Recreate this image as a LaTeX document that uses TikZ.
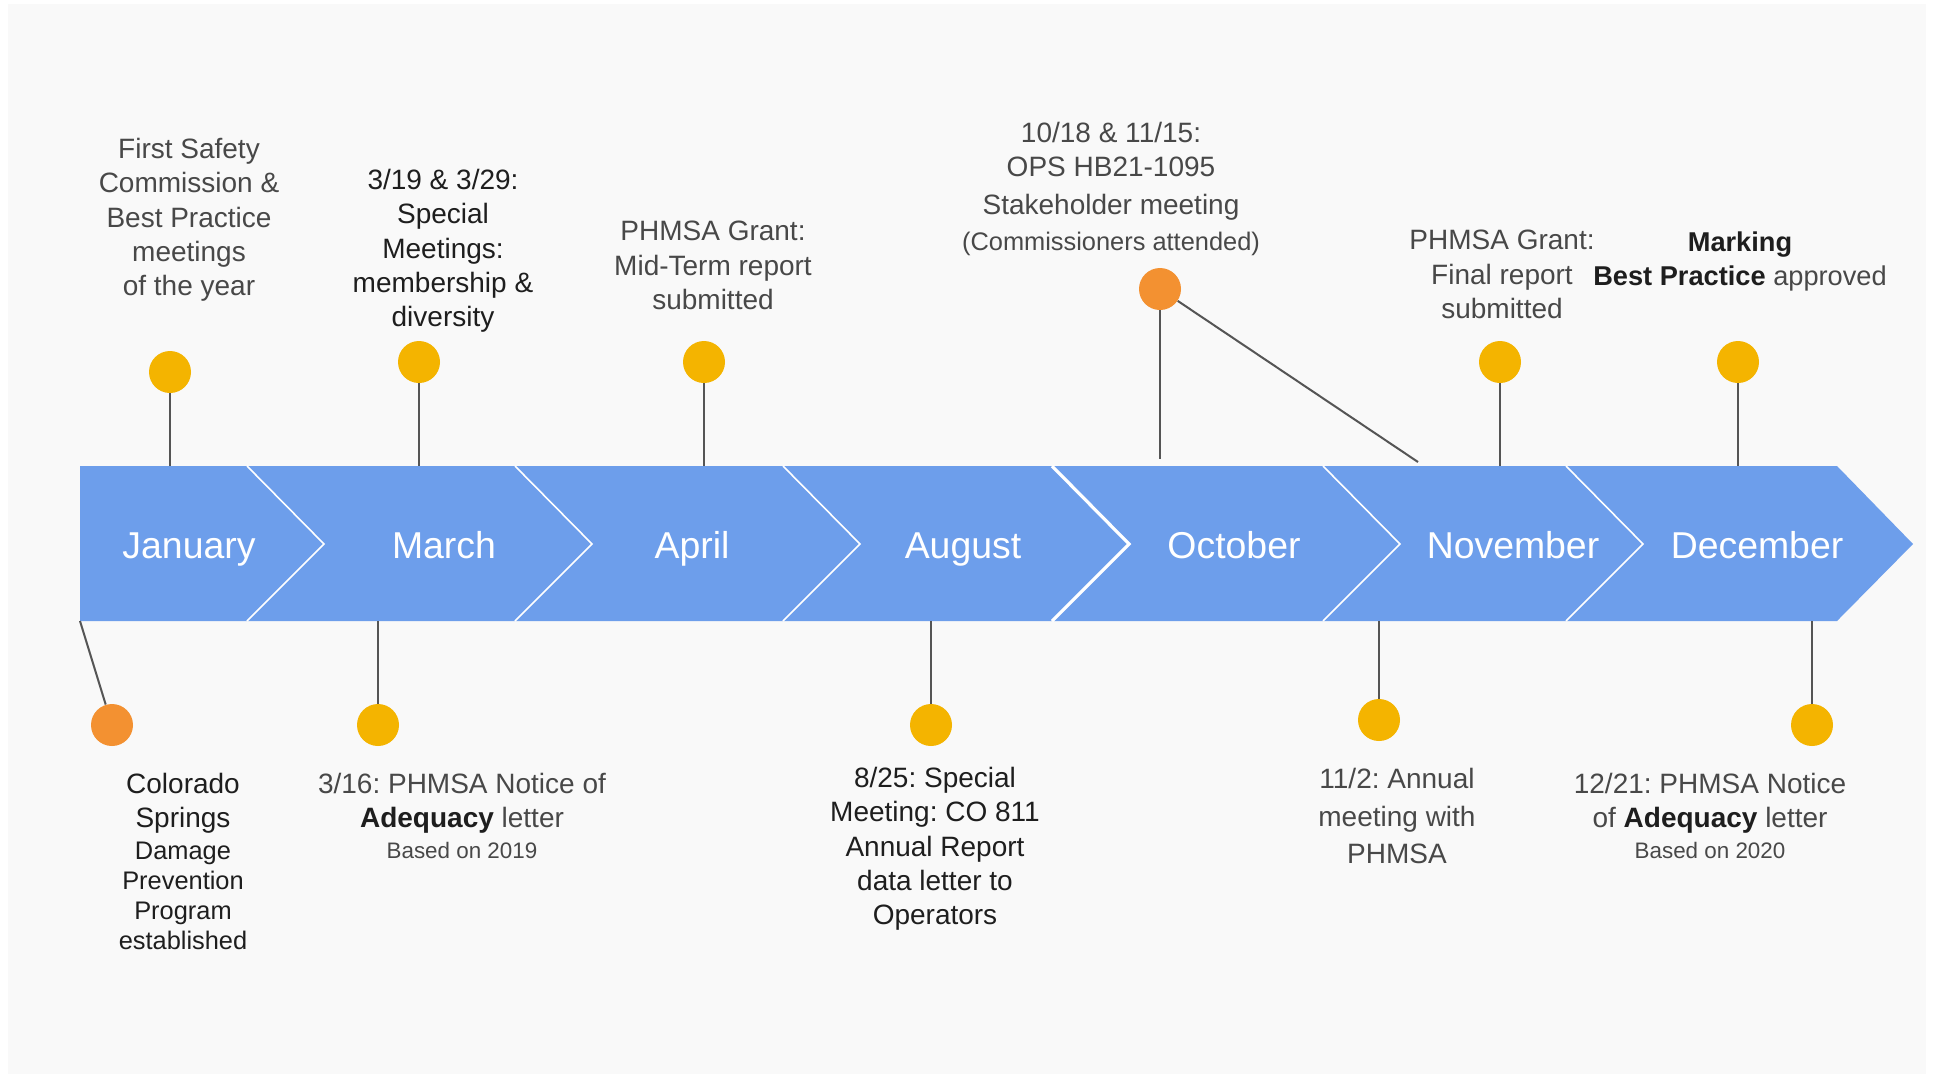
\documentclass[tikz,border=0pt]{standalone}
\usepackage{fontspec}
\setmainfont{Liberation Sans}
\usepackage{tikz}
\usetikzlibrary{calc}
\frenchspacing
\definecolor{panel}{HTML}{F9F9F9}
\definecolor{bandblue}{HTML}{6D9EEB}
\definecolor{dotyellow}{HTML}{F4B400}
\definecolor{dotorange}{HTML}{F39131}
\definecolor{stemgrey}{HTML}{555555}
\definecolor{notegrey}{HTML}{484848}
\definecolor{notedark}{HTML}{1E1E1E}
\newcommand\smallnote{\fontsize{12.7}{15}\selectfont}
\newcommand\tinynote{\fontsize{11.2}{13}\selectfont}
\newcommand\boldnote[1]{\textbf{\color{notedark}#1}}
\tikzset{
  month/.style={
    anchor=base,
    text=white,
    inner sep=0pt,
    font=\fontsize{18.7}{22}\selectfont,
  },
  separator/.style={
    draw=white,
    line width=0.8pt,
  },
  pin/.style={
    draw=stemgrey,
    line width=1pt,
  },
  event dot/.style={
    circle,
    fill=dotyellow,
    minimum size=21pt,
    inner sep=0pt,
  },
  early dot/.style={
    event dot,
    fill=dotorange,
  },
  note/.style={
    align=center,
    anchor=north,
    inner sep=0pt,
    text=notegrey,
    font=\fontsize{14}{17.1}\selectfont,
  },
  dark note/.style={
    note,
    text=notedark,
  },
}

\begin{document}
\begin{tikzpicture}[x=0.5pt,y=-0.5pt]
  \fill[white] (0,0) rectangle (1933,1078);
  \useasboundingbox (0,0) rectangle (1933,1078);
  \fill[panel] (8,4) rectangle (1926,1074);

  \fill[bandblue] (80,466) -- (1837,466) -- (1913,544) -- (1837,621) -- (80,621) -- cycle;
  \foreach \b in {247,515,783,1323,1566}
    \draw[separator] (\b,466) -- ++(77,78) -- ++(-77,77);
  \draw[separator, line width=1.6pt] (1052,466) -- ++(77,78) -- ++(-77,77);

  \coordinate (band top) at (0,466);
  \coordinate (band bottom) at (0,621);
  \coordinate (band corner) at (80,621);
  \coordinate (oct pin) at (1160,459);
  \coordinate (nov pin) at (1418,462);

  \node[month] (jan) at (189,558) {January};
  \node[month] (mar) at (444,558) {March};
  \node[month] (apr) at (692,558) {April};
  \node[month] (aug) at (963,558) {August};
  \node[month] (oct) at (1234,558) {October};
  \node[month] (nov) at (1513,558) {November};
  \node[month] (dec) at (1757,558) {December};

  \node[event dot] (firstmeet) at (170,372) {};
  \node[event dot] (specialmeet) at (419,362) {};
  \node[event dot] (midterm) at (704,362) {};
  \node[early dot] (stakeholder) at (1160,289) {};
  \node[event dot] (finalreport) at (1500,362) {};
  \node[event dot] (marking) at (1738,362) {};

  \draw[pin] (firstmeet) -- (firstmeet |- band top);
  \draw[pin] (specialmeet) -- (specialmeet |- band top);
  \draw[pin] (midterm) -- (midterm |- band top);
  \draw[pin] (stakeholder) -- (oct pin);
  \draw[pin] (stakeholder) -- (nov pin);
  \draw[pin] (finalreport) -- (finalreport |- band top);
  \draw[pin] (marking) -- (marking |- band top);

  \node[early dot] (cspdp) at (112,725) {};
  \node[event dot] (adequacy19) at (378,725) {};
  \node[event dot] (co811) at (931,725) {};
  \node[event dot] (annual) at (1379,720) {};
  \node[event dot] (adequacy20) at (1812,725) {};

  \draw[pin] (band corner) -- (cspdp);
  \draw[pin] (adequacy19 |- band bottom) -- (adequacy19);
  \draw[pin] (co811 |- band bottom) -- (co811);
  \draw[pin] (annual |- band bottom) -- (annual);
  \draw[pin] (adequacy20 |- band bottom) -- (adequacy20);

  \node[note] (firstmeet text) at (189,138) {First Safety\\Commission \&\\Best Practice\\meetings\\of the year};
  \node[dark note] (specialmeet text) at (443,169) {3/19 \& 3/29:\\Special\\Meetings:\\membership \&\\diversity};
  \node[note] (midterm text) at (713,221) {PHMSA Grant:\\Mid-Term report\\submitted};
  \node[note] (stakeholder text) at (1111,122) {10/18 \& 11/15:\\OPS HB21-1095\\[1.8pt]Stakeholder meeting\\[0.6pt]{\smallnote (Commissioners attended)}};
  \node[note] (finalreport text) at (1502,230) {PHMSA Grant:\\Final report\\submitted};
  \node[note, font=\fontsize{13.6}{17.1}\selectfont] (marking text) at (1740,231) {\boldnote{Marking}\\\boldnote{Best Practice} approved};

  \node[dark note] (cspdp text) at (183,773) {Colorado\\Springs\\[-1.2pt]{\smallnote Damage}\\[-2.2pt]{\smallnote Prevention}\\[-2.2pt]{\smallnote Program}\\[-2.2pt]{\smallnote established}};
  \node[note] (adequacy19 text) at (462,773) {3/16: PHMSA Notice of\\\boldnote{Adequacy} letter\\[-1.8pt]{\tinynote Based on 2019}};
  \node[dark note] (co811 text) at (935,767) {8/25: Special\\Meeting: CO 811\\Annual Report\\data letter to\\Operators};
  \node[note, font=\fontsize{14}{18.8}\selectfont] (annual text) at (1397,768) {11/2: Annual\\meeting with\\PHMSA};
  \node[note] (adequacy20 text) at (1710,773) {12/21: PHMSA Notice\\of \boldnote{Adequacy} letter\\[-1.8pt]{\tinynote Based on 2020}};
\end{tikzpicture}
\end{document}
